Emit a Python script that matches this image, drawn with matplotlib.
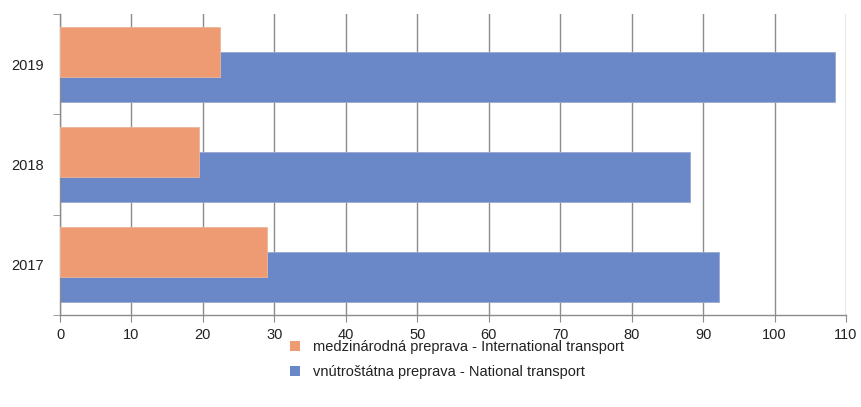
import numpy as np
import matplotlib
matplotlib.use("Agg")
import matplotlib.pyplot as plt
from matplotlib.patches import Patch

plt.rcParams['font.family'] = ['Liberation Sans Narrow', 'Liberation Sans', 'DejaVu Sans']

# --- data
years = ["2017", "2018", "2019"]
international = [29.0, 19.5, 22.4]
national = [92.2, 88.2, 108.4]
labels = ["medzinárodná preprava - International transport",
          "vnútroštátna preprava - National transport"]

c_int = "#EE9B73"
c_nat = "#6A87C8"

fig = plt.figure(figsize=(8.61, 4.07), dpi=100)
ax = fig.add_axes([0.0697, 0.226, 0.9129, 0.7396])

y = np.arange(len(years))
h = 0.5
ax.barh(y - 0.125, national, height=h, color=c_nat, edgecolor="#9aa8cf", lw=0.6, zorder=2)
ax.barh(y + 0.125, international, height=h, color=c_int, edgecolor="#e8b59b", lw=0.6, zorder=3)

ax.set_xlim(0, 110)
ax.set_ylim(-0.5, len(years) - 0.5)
ax.set_xticks(np.arange(0, 111, 10))
ax.set_yticks(y)
ax.set_yticklabels(years)
ax.set_yticks(np.arange(-0.5, len(years), 1), minor=True)

ax.grid(axis="x", color="#8c8c8c", lw=1.0, zorder=1)
ax.set_axisbelow(True)
for s in ["top", "right"]:
    ax.spines[s].set_visible(False)
for s in ["left", "bottom"]:
    ax.spines[s].set_color("#8c8c8c")
    ax.spines[s].set_linewidth(1.0)

ax.tick_params(axis="x", length=5, color="#8c8c8c", labelsize=10.5, pad=4, labelcolor="#222222")
ax.tick_params(axis="y", which="major", length=0, labelsize=10.5, pad=11.5, labelcolor="#222222")
ax.tick_params(axis="y", which="minor", length=5, color="#8c8c8c")

handles = [Patch(facecolor=c_int, edgecolor="none"), Patch(facecolor=c_nat, edgecolor="none")]
fig.legend(handles, labels, loc="center", bbox_to_anchor=(0.531, 0.116), frameon=False,
           fontsize=10.5, handlelength=0.7, handleheight=0.7, handletextpad=0.9,
           labelspacing=0.75, borderpad=0.0, labelcolor="#222222")

fig.savefig("out.png", dpi=100)
